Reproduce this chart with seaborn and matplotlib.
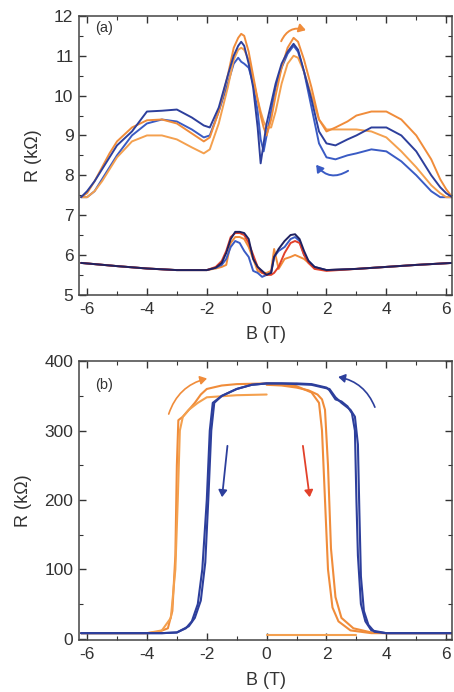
import numpy as np
import pandas as pd
import matplotlib
matplotlib.use("Agg")
import matplotlib.pyplot as plt
import seaborn as sns
from matplotlib.ticker import MultipleLocator
from matplotlib.patches import FancyArrowPatch

# ---------------- Panel (a): upper curves ----------------
B_up = [-6.2, -6.0, -5.75, -5.5, -5.25, -5.0, -4.5, -4.0, -3.5, -3.0, -2.5, -2.1, -1.9, -1.6, -1.3,
        -1.1, -0.95, -0.85, -0.75, -0.6, -0.45, -0.3, -0.2, -0.1, 0.0, 0.15, 0.3, 0.5, 0.7, 0.9,
        1.05, 1.25, 1.5, 1.75, 2.0, 2.3, 2.7, 3.0, 3.5, 4.0, 4.5, 5.0, 5.5, 5.8, 6.0, 6.2]
R_blue1 = [7.45, 7.6, 7.85, 8.15, 8.45, 8.75, 9.1, 9.6, 9.62, 9.65, 9.45, 9.25, 9.2, 9.7, 10.5,
           11.0, 11.25, 11.35, 11.25, 10.8, 10.2, 9.2, 8.3, 8.8, 9.3, 9.8, 10.3, 10.8, 11.1, 11.3,
           11.15, 10.6, 9.9, 9.1, 8.8, 8.75, 8.9, 9.0, 9.2, 9.2, 9.0, 8.6, 8.0, 7.7, 7.55, 7.45]
R_blue2 = [7.45, 7.45, 7.6, 7.9, 8.2, 8.5, 9.0, 9.3, 9.4, 9.35, 9.15, 8.95, 9.0, 9.6, 10.3,
           10.8, 10.95, 10.85, 10.8, 10.7, 10.3, 9.6, 8.9, 8.6, 9.0, 9.6, 10.2, 10.7, 11.05, 11.25,
           11.1, 10.6, 9.7, 8.8, 8.45, 8.4, 8.5, 8.55, 8.65, 8.6, 8.35, 8.0, 7.6, 7.45, 7.45, 7.45]
R_orange1 = [7.45, 7.55, 7.85, 8.2, 8.55, 8.85, 9.2, 9.38, 9.4, 9.3, 9.05, 8.85, 8.95, 9.6, 10.5,
             11.2, 11.45, 11.55, 11.5, 11.1, 10.5, 9.9, 9.5, 9.2, 9.0, 9.4, 10.0, 10.7, 11.2, 11.45,
             11.35, 10.9, 10.2, 9.4, 9.1, 9.2, 9.35, 9.5, 9.6, 9.6, 9.4, 9.0, 8.4, 7.9, 7.65, 7.45]
R_orange2 = [7.45, 7.45, 7.6, 7.85, 8.15, 8.45, 8.85, 9.0, 9.0, 8.9, 8.7, 8.55, 8.65, 9.3, 10.2,
             10.9, 11.15, 11.2, 11.15, 10.9, 10.4, 9.9, 9.6, 9.35, 9.2, 9.2, 9.6, 10.3, 10.8, 11.0,
             10.95, 10.6, 10.0, 9.4, 9.15, 9.15, 9.15, 9.15, 9.1, 8.95, 8.6, 8.2, 7.75, 7.55, 7.45, 7.45]

# ---------------- Panel (a): lower curves ----------------
B_lo = [-6.2, -5.0, -4.0, -3.0, -2.0, -1.7, -1.5, -1.35, -1.2, -1.05, -0.9, -0.75, -0.6, -0.45, -0.3,
        -0.15, 0.0, 0.15, 0.25, 0.4, 0.6, 0.8, 0.95, 1.1, 1.25, 1.4, 1.6, 2.0, 3.0, 4.0, 5.0, 6.2]
R_red = [5.8, 5.72, 5.66, 5.62, 5.62, 5.7, 5.85, 6.1, 6.45, 6.55, 6.55, 6.5, 6.3, 6.0, 5.7,
         5.55, 5.5, 5.5, 5.55, 5.7, 6.05, 6.3, 6.35, 6.3, 6.0, 5.8, 5.65, 5.6, 5.65, 5.7, 5.75, 5.8]
R_navy = [5.8, 5.72, 5.66, 5.62, 5.62, 5.68, 5.8, 6.05, 6.4, 6.58, 6.58, 6.55, 6.4, 5.9, 5.7,
          5.6, 5.5, 5.55, 5.95, 6.15, 6.35, 6.5, 6.52, 6.4, 6.1, 5.85, 5.7, 5.62, 5.65, 5.7, 5.75, 5.8]
R_blue_lo = [5.8, 5.72, 5.66, 5.62, 5.62, 5.68, 5.75, 5.9, 6.2, 6.35, 6.3, 6.1, 5.95, 5.6, 5.55,
             5.45, 5.5, 5.55, 5.95, 6.1, 6.2, 6.4, 6.45, 6.35, 6.0, 5.85, 5.7, 5.62, 5.65, 5.7, 5.75, 5.8]
R_orange_lo = [5.8, 5.72, 5.66, 5.62, 5.62, 5.66, 5.7, 5.75, 6.3, 6.45, 6.45, 6.4, 6.2, 5.9, 5.6,
               5.55, 5.55, 5.6, 6.15, 5.65, 5.9, 5.95, 6.0, 5.95, 5.9, 5.8, 5.68, 5.62, 5.65, 5.7, 5.75, 5.8]

# ---------------- Panel (b) ----------------
B_orA = [-6.2, -4.0, -3.6, -3.3, -3.15, -3.05, -3.0, -2.95, -2.8, -2.6, -2.4, -2.2, -2.0, -1.5, -1.0,
         0.0, 0.5, 1.0, 1.5, 1.75, 1.85, 1.95, 2.05, 2.2, 2.4, 2.8, 3.5, 4.5, 6.2]
R_orA = [8, 8, 10, 15, 40, 120, 250, 315, 320, 330, 340, 352, 360, 365, 367,
         368, 367, 364, 355, 340, 300, 200, 100, 45, 25, 12, 8, 8, 8]
B_orB = [0.0, -1.0, -2.0, -2.3, -2.6, -2.8, -2.9, -2.97, -3.05, -3.2, -3.5, -4.0, -6.2]
R_orB = [352, 351, 348, 340, 330, 320, 300, 200, 100, 30, 12, 8, 8]
B_orC = [6.2, 4.0, 3.5, 2.9, 2.5, 2.3, 2.15, 2.05, 1.95, 1.85, 1.7, 1.4, 1.0, 0.5, 0.0]
R_orC = [8, 8, 9, 15, 30, 60, 130, 250, 330, 345, 352, 358, 362, 365, 366]
B_orD = [0.0, 1.0, 2.0, 3.0]
R_orD = [5, 5, 5, 5]
B_blA = [-6.2, -3.5, -3.0, -2.7, -2.5, -2.3, -2.15, -2.0, -1.9, -1.8, -1.5, -1.0, -0.5, 0.0, 1.0,
         1.5, 2.0, 2.1, 2.3, 2.5, 2.7, 2.85, 2.95, 3.0, 3.05, 3.15, 3.3, 3.5, 4.0, 6.2]
R_blA = [8, 8, 9, 15, 25, 50, 100, 200, 300, 340, 350, 360, 366, 368, 368,
         367, 362, 358, 345, 342, 335, 325, 300, 200, 120, 50, 25, 12, 8, 8]
B_blB = [6.2, 4.0, 3.6, 3.4, 3.25, 3.15, 3.1, 3.05, 2.95, 2.8, 2.5, 2.3, 2.1, 1.5, 0.5,
         0.0, -0.5, -1.0, -1.5, -1.75, -1.85, -1.95, -2.05, -2.2, -2.4, -2.6, -3.0, -3.5, -6.2]
R_blB = [8, 8, 10, 20, 40, 90, 180, 280, 320, 330, 340, 348, 360, 366, 368,
         368, 366, 360, 350, 340, 300, 200, 110, 55, 30, 18, 9, 8, 8]

TICK_B = [-6, -4, -2, 0, 2, 4, 6]

ORANGE = "#f08c3a"
ORANGE2 = "#f4a04e"
RED = "#e2412a"
NAVY = "#1f2160"
BLUE = "#2d3f9c"
BLUE2 = "#3a5bc4"
TXT = "#333333"


def longform(pairs):
    frames = []
    for name, b, r in pairs:
        frames.append(pd.DataFrame({"B": b, "R": r, "curve": name, "idx": np.arange(len(b))}))
    return pd.concat(frames, ignore_index=True)


sns.set_style("ticks")
plt.rcParams["font.family"] = ["Liberation Sans", "DejaVu Sans"]
plt.rcParams["text.color"] = TXT
plt.rcParams["axes.labelcolor"] = TXT
plt.rcParams["xtick.color"] = TXT
plt.rcParams["ytick.color"] = TXT
plt.rcParams["axes.edgecolor"] = "#444444"

fig = plt.figure(figsize=(4.54, 6.92), dpi=100)
axa = fig.add_axes([0.174, 0.574, 0.822, 0.403])
axb = fig.add_axes([0.174, 0.075, 0.822, 0.403])

dfa = longform([
    ("blue2", B_up, R_blue2), ("orange2", B_up, R_orange2),
    ("orange1", B_up, R_orange1), ("blue1", B_up, R_blue1),
    ("orange_lo", B_lo, R_orange_lo), ("blue_lo", B_lo, R_blue_lo),
    ("red_lo", B_lo, R_red), ("navy_lo", B_lo, R_navy),
])
pal_a = {"blue1": BLUE, "blue2": BLUE2, "orange1": ORANGE, "orange2": ORANGE2,
         "orange_lo": ORANGE, "blue_lo": BLUE2, "red_lo": RED, "navy_lo": NAVY}
sns.lineplot(data=dfa, x="B", y="R", hue="curve", palette=pal_a, units="curve",
             estimator=None, sort=False, legend=False, lw=1.4, ax=axa)

dfb = longform([
    ("orD", B_orD, R_orD), ("orA", B_orA, R_orA), ("orB", B_orB, R_orB), ("orC", B_orC, R_orC),
    ("blA", B_blA, R_blA), ("blB", B_blB, R_blB),
])
pal_b = {"orA": ORANGE, "orB": ORANGE2, "orC": ORANGE, "orD": ORANGE2, "blA": BLUE, "blB": BLUE}
sns.lineplot(data=dfb, x="B", y="R", hue="curve", palette=pal_b, units="curve",
             estimator=None, sort=False, legend=False, lw=1.5, ax=axb)


def style(ax, ylim, ymaj, ymin):
    ax.set_xlim(-6.27, 6.2)
    ax.set_ylim(*ylim)
    ax.set_xticks(TICK_B)
    ax.set_xticklabels([str(t) for t in TICK_B])
    ax.xaxis.set_minor_locator(MultipleLocator(1))
    ax.yaxis.set_major_locator(MultipleLocator(ymaj))
    ax.yaxis.set_minor_locator(MultipleLocator(ymin))
    ax.tick_params(which="both", direction="in", top=True, right=True, labelsize=12.5)
    ax.tick_params(axis="x", pad=5)
    ax.tick_params(axis="y", pad=4)
    ax.tick_params(which="major", length=5, width=1)
    ax.tick_params(which="minor", length=3, width=0.8)
    for s in ax.spines.values():
        s.set_linewidth(1.1)
    ax.set_xlabel("B (T)", fontsize=13, labelpad=7)
    ax.set_ylabel("R (kΩ)", fontsize=13, labelpad=9)


style(axa, (5, 12), 1, 0.5)
style(axb, (-2, 400), 100, 50)

axa.text(-5.72, 11.6, "(a)", fontsize=10.5)
axb.text(-5.72, 360, "(b)", fontsize=10.5)

# arrows panel (a)
axa.add_patch(FancyArrowPatch((0.45, 11.3), (1.4, 11.62), connectionstyle="arc3,rad=-0.5",
                              arrowstyle="-|>,head_length=4,head_width=2.5", color=ORANGE, lw=1.4))
axa.add_patch(FancyArrowPatch((2.8, 8.15), (1.6, 8.32), connectionstyle="arc3,rad=-0.5",
                              arrowstyle="-|>,head_length=4,head_width=2.5", color=BLUE2, lw=1.4))
# arrows panel (b)
axb.add_patch(FancyArrowPatch((-3.3, 320), (-1.9, 376), connectionstyle="arc3,rad=-0.3",
                              arrowstyle="-|>,head_length=4,head_width=2.5", color=ORANGE, lw=1.2))
axb.add_patch(FancyArrowPatch((3.65, 330), (2.3, 378), connectionstyle="arc3,rad=0.3",
                              arrowstyle="-|>,head_length=4,head_width=2.5", color=BLUE, lw=1.2))
axb.add_patch(FancyArrowPatch((-1.3, 282), (-1.5, 200),
                              arrowstyle="-|>,head_length=4,head_width=2.5", color=BLUE, lw=1.3))
axb.add_patch(FancyArrowPatch((1.2, 282), (1.45, 200),
                              arrowstyle="-|>,head_length=4,head_width=2.5", color=RED, lw=1.3))

fig.savefig("out.png", dpi=100)
